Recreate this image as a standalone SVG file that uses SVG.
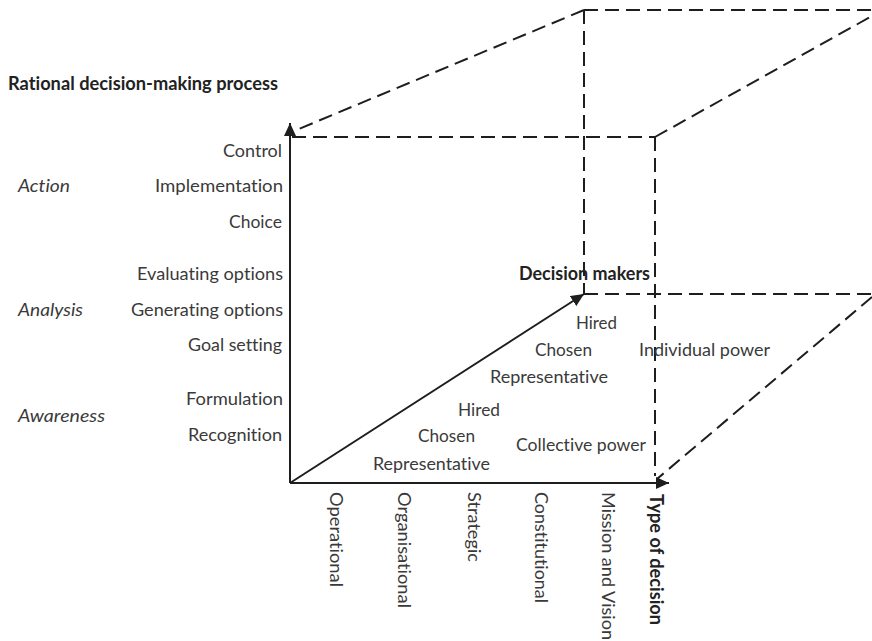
<svg xmlns="http://www.w3.org/2000/svg" width="872" height="641" viewBox="0 0 872 641">
<defs>
<style>
.t{font-family:Lato,"Liberation Sans",sans-serif;font-size:18px;fill:#3a3a3a;font-variant-ligatures:none}
.b{font-weight:bold;fill:#222}
.i{font-style:italic}
.e{text-anchor:end}
.s{fill:none;stroke:#1e1e1e;stroke-width:2}
.d{fill:none;stroke:#1e1e1e;stroke-width:2;stroke-dasharray:14 7}
</style>
<marker id="ah" markerUnits="userSpaceOnUse" markerWidth="14" markerHeight="12" refX="13" refY="6" orient="auto">
<path d="M0,0 L13,6 L0,12 z" fill="#1e1e1e"/>
</marker>
</defs>
<rect width="872" height="641" fill="#fff"/>
<g id="connectors">
<path class="d" d="M292,137 L655,137"/>
<path class="d" d="M655,137 L655,476"/>
<path class="d" d="M584,10 L872,10"/>
<path class="d" d="M584,10 L584,294"/>
<path class="d" d="M584,294 L872,294"/>
<path class="d" d="M584,10 L294,131"/>
<path class="d" d="M655,137 L872,16"/>
<path class="d" d="M872,297 L657,479"/>
<path class="s" d="M290,483 L290,123" marker-end="url(#ah)"/>
<path class="s" d="M290,483 L669,483" marker-end="url(#ah)"/>
<path class="s" d="M290,483 L584,294" marker-end="url(#ah)"/>
</g>
<g id="title"><text class="t b" x="8" y="90" textLength="270" lengthAdjust="spacingAndGlyphs">Rational decision-making process</text></g>
<g id="stages">
<text class="t e" x="282" y="157" textLength="59" lengthAdjust="spacingAndGlyphs">Control</text>
<text class="t e" x="283" y="192" textLength="128" lengthAdjust="spacingAndGlyphs">Implementation</text>
<text class="t e" x="282" y="228" textLength="53" lengthAdjust="spacingAndGlyphs">Choice</text>
<text class="t e" x="283" y="280" textLength="146" lengthAdjust="spacingAndGlyphs">Evaluating options</text>
<text class="t e" x="283" y="316" textLength="152" lengthAdjust="spacingAndGlyphs">Generating options</text>
<text class="t e" x="282" y="351" textLength="94" lengthAdjust="spacingAndGlyphs">Goal setting</text>
<text class="t e" x="283" y="405" textLength="97" lengthAdjust="spacingAndGlyphs">Formulation</text>
<text class="t e" x="282" y="441" textLength="94" lengthAdjust="spacingAndGlyphs">Recognition</text>
</g>
<g id="phases">
<text class="t i" x="18" y="192" textLength="52" lengthAdjust="spacingAndGlyphs">Action</text>
<text class="t i" x="18" y="316" textLength="65" lengthAdjust="spacingAndGlyphs">Analysis</text>
<text class="t i" x="18" y="422" textLength="87" lengthAdjust="spacingAndGlyphs">Awareness</text>
</g>
<g id="decision-makers">
<text class="t b" x="519" y="280" textLength="131" lengthAdjust="spacingAndGlyphs">Decision makers</text>
<text class="t" x="576" y="329" textLength="41" lengthAdjust="spacingAndGlyphs">Hired</text>
<text class="t" x="535" y="356" textLength="57" lengthAdjust="spacingAndGlyphs">Chosen</text>
<text class="t" x="490" y="383" textLength="118" lengthAdjust="spacingAndGlyphs">Representative</text>
<text class="t" x="639" y="356" textLength="131" lengthAdjust="spacingAndGlyphs">Individual power</text>
<text class="t" x="458" y="416" textLength="42" lengthAdjust="spacingAndGlyphs">Hired</text>
<text class="t" x="418" y="442" textLength="57" lengthAdjust="spacingAndGlyphs">Chosen</text>
<text class="t" x="373" y="470" textLength="117" lengthAdjust="spacingAndGlyphs">Representative</text>
<text class="t" x="516" y="451" textLength="130" lengthAdjust="spacingAndGlyphs">Collective power</text>
</g>
<g id="decision-types">
<text class="t" transform="translate(330,492) rotate(90)" textLength="95" lengthAdjust="spacingAndGlyphs">Operational</text>
<text class="t" transform="translate(398,492) rotate(90)" textLength="116" lengthAdjust="spacingAndGlyphs">Organisational</text>
<text class="t" transform="translate(468,492) rotate(90)" textLength="70" lengthAdjust="spacingAndGlyphs">Strategic</text>
<text class="t" transform="translate(535,492) rotate(90)" textLength="111" lengthAdjust="spacingAndGlyphs">Constitutional</text>
<text class="t" transform="translate(602,492) rotate(90)" textLength="148" lengthAdjust="spacingAndGlyphs">Mission and Vision</text>
<text class="t b" transform="translate(650,494) rotate(90)" textLength="131" lengthAdjust="spacingAndGlyphs">Type of decision</text>
</g>
</svg>
